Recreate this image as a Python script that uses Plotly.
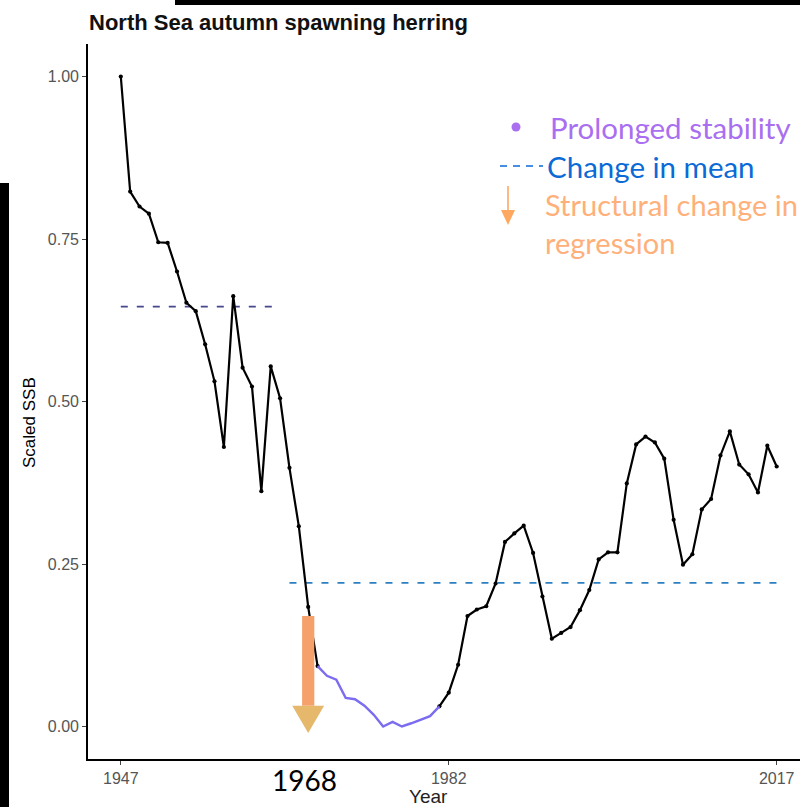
import plotly.graph_objects as go

# ---------------- data ----------------
years = list(range(1947, 2018))
ssb = [1.00, 0.823, 0.80, 0.789, 0.745, 0.744, 0.70, 0.652, 0.639, 0.588,
       0.531, 0.43, 0.662, 0.552, 0.523, 0.362, 0.554, 0.505, 0.398, 0.308,
       0.184, 0.093, 0.078, 0.072, 0.044, 0.042, 0.032, 0.018, 0.0, 0.007,
       0.0, 0.005, 0.01, 0.016, 0.031, 0.052, 0.095, 0.17, 0.18, 0.185,
       0.22, 0.284, 0.297, 0.309, 0.267, 0.2, 0.135, 0.144, 0.153, 0.179,
       0.21, 0.257, 0.268, 0.268, 0.374, 0.434, 0.446, 0.437, 0.412, 0.318,
       0.249, 0.265, 0.334, 0.350, 0.417, 0.454, 0.403, 0.388, 0.360, 0.432,
       0.40]

stable_start, stable_end = 1968, 1981
mean_starts = [1947, 1965]
mean_ends = [1964, 2017]
mean_values = [0.646, 0.221]
mean_colors = ["#46468c", "#2e7fc0"]

arrow_year = 1967
arrow_top = 0.17
arrow_head_base = 0.032
arrow_tip = -0.01

x_ticks = [1947, 1982, 2017]
y_ticks = [0.0, 0.25, 0.5, 0.75, 1.0]

title_text = "North Sea autumn spawning herring"
legend_labels = ["Prolonged stability", "Change in mean", "Structural change in", "regression"]
legend_colors = ["#a96ff0", "#0b6ad6", "#ffb07a", "#ffb07a"]

# ---------------- layout geometry ----------------
W, H = 800, 807
ML, MR, MT, MB = 88, 0, 44, 48
PW, PH = W - ML - MR, H - MT - MB


def px(x):
    return (x - ML) / PW


def py(y):
    return (H - MB - y) / PH


fig = go.Figure()

# mean lines
for s, e, v, c in zip(mean_starts, mean_ends, mean_values, mean_colors):
    fig.add_trace(go.Scatter(x=[s, e], y=[v, v], mode="lines",
                             line=dict(color=c, width=1.6, dash="7px,9px"),
                             hoverinfo="skip", showlegend=False))

# black series (before and after stability)
seg1 = [(y, v) for y, v in zip(years, ssb) if y <= stable_start]
seg2 = [(y, v) for y, v in zip(years, ssb) if y >= stable_end]
stab = [(y, v) for y, v in zip(years, ssb) if stable_start <= y <= stable_end]
for seg in (seg1, seg2):
    fig.add_trace(go.Scatter(x=[a for a, _ in seg], y=[b for _, b in seg],
                             mode="lines+markers",
                             line=dict(color="black", width=2.2),
                             marker=dict(color="black", size=4.2),
                             showlegend=False))
fig.add_trace(go.Scatter(x=[a for a, _ in stab], y=[b for _, b in stab],
                         mode="lines", line=dict(color="#7b6cf0", width=2.4),
                         showlegend=False))

# structural change arrow
bar_hw, head_hw = 0.65, 1.7
fig.add_shape(type="rect", xref="x", yref="y",
              x0=arrow_year - bar_hw, x1=arrow_year + bar_hw,
              y0=arrow_head_base, y1=arrow_top,
              fillcolor="#f6a06c", line=dict(width=0), layer="above")
fig.add_shape(type="path", xref="x", yref="y",
              path=f"M {arrow_year - head_hw} {arrow_head_base} L {arrow_year + head_hw} {arrow_head_base} "
                   f"L {arrow_year} {arrow_tip} Z",
              fillcolor="#e6b86c", line=dict(width=0), layer="above")

# screenshot black bars
fig.add_shape(type="rect", xref="paper", yref="paper",
              x0=px(175), x1=px(800), y0=py(5), y1=py(-2),
              fillcolor="black", line=dict(width=0))
fig.add_shape(type="rect", xref="paper", yref="paper",
              x0=px(-2), x1=px(9), y0=py(810), y1=py(183),
              fillcolor="black", line=dict(width=0))

annotations = []
# title
annotations.append(dict(text=f"<b>{title_text}</b>", xref="paper", yref="paper",
                        x=px(87), y=py(22), xanchor="left", yanchor="middle",
                        showarrow=False,
                        font=dict(family="Liberation Sans, Arial", size=22, color="#111")))
# axis titles
annotations.append(dict(text="Scaled SSB", xref="paper", yref="paper",
                        x=px(29), y=py(423), textangle=-90, showarrow=False,
                        xanchor="center", yanchor="middle",
                        font=dict(family="Liberation Sans, Arial", size=17, color="black")))
annotations.append(dict(text="Year", xref="paper", yref="paper",
                        x=px(428), y=py(796), showarrow=False,
                        xanchor="center", yanchor="middle",
                        font=dict(family="Liberation Sans, Arial", size=19, color="#222")))
# 1968 label
annotations.append(dict(text=str(stable_start), xref="paper", yref="paper",
                        x=px(304), y=py(780), showarrow=False,
                        xanchor="center", yanchor="middle",
                        font=dict(family="Lato, Open Sans", size=28, color="black")))
# legend texts
leg_pos = [(548, 127), (545, 166), (543, 205), (543, 242)]
leg_sizes = [29.5, 29.5, 29, 29]
for lab, col, (lx, ly), fs in zip(legend_labels, legend_colors, leg_pos, leg_sizes):
    annotations.append(dict(text=lab, xref="paper", yref="paper",
                            x=px(lx), y=py(ly), showarrow=False,
                            xanchor="left", yanchor="middle",
                            font=dict(family="Lato, Open Sans", size=fs, color=col)))

# legend symbols
fig.add_shape(type="circle", xref="paper", yref="paper",
              x0=px(511.5), x1=px(520.5), y0=py(131.5), y1=py(122.5),
              fillcolor="#a96ff0", line=dict(width=0))
fig.add_shape(type="line", xref="paper", yref="paper",
              x0=px(500), x1=px(543), y0=py(166), y1=py(166),
              line=dict(color="#0b6ad6", width=1.6, dash="7px,6px"))
fig.add_shape(type="line", xref="paper", yref="paper",
              x0=px(508), x1=px(508), y0=py(186), y1=py(212),
              line=dict(color="#ffa862", width=1.6))
fig.add_shape(type="path", xref="paper", yref="paper",
              path=f"M {px(501)} {py(210)} L {px(515)} {py(210)} L {px(508)} {py(225)} Z",
              fillcolor="#ffa862", line=dict(width=0))

fig.update_layout(
    width=W, height=H,
    margin=dict(l=ML, r=MR, t=MT, b=MB),
    paper_bgcolor="white", plot_bgcolor="white",
    annotations=annotations,
    showlegend=False,
    xaxis=dict(range=[1943.5, 1943.5 + PW / 9.37], tickvals=x_ticks,
               ticktext=[str(t) for t in x_ticks],
               showgrid=False, zeroline=False, showline=True,
               linecolor="black", linewidth=1.6, ticks="outside", ticklen=4,
               tickcolor="#444", tickfont=dict(family="Liberation Sans, Arial", size=16, color="#555")),
    yaxis=dict(range=[-0.05, 1.05], tickvals=y_ticks,
               ticktext=[f"{t:.2f}" for t in y_ticks],
               showgrid=False, zeroline=False, showline=True,
               linecolor="black", linewidth=1.6, ticks="outside", ticklen=4,
               tickcolor="#444", tickfont=dict(family="Liberation Sans, Arial", size=16, color="#555")),
)

fig.write_html("out.html")
